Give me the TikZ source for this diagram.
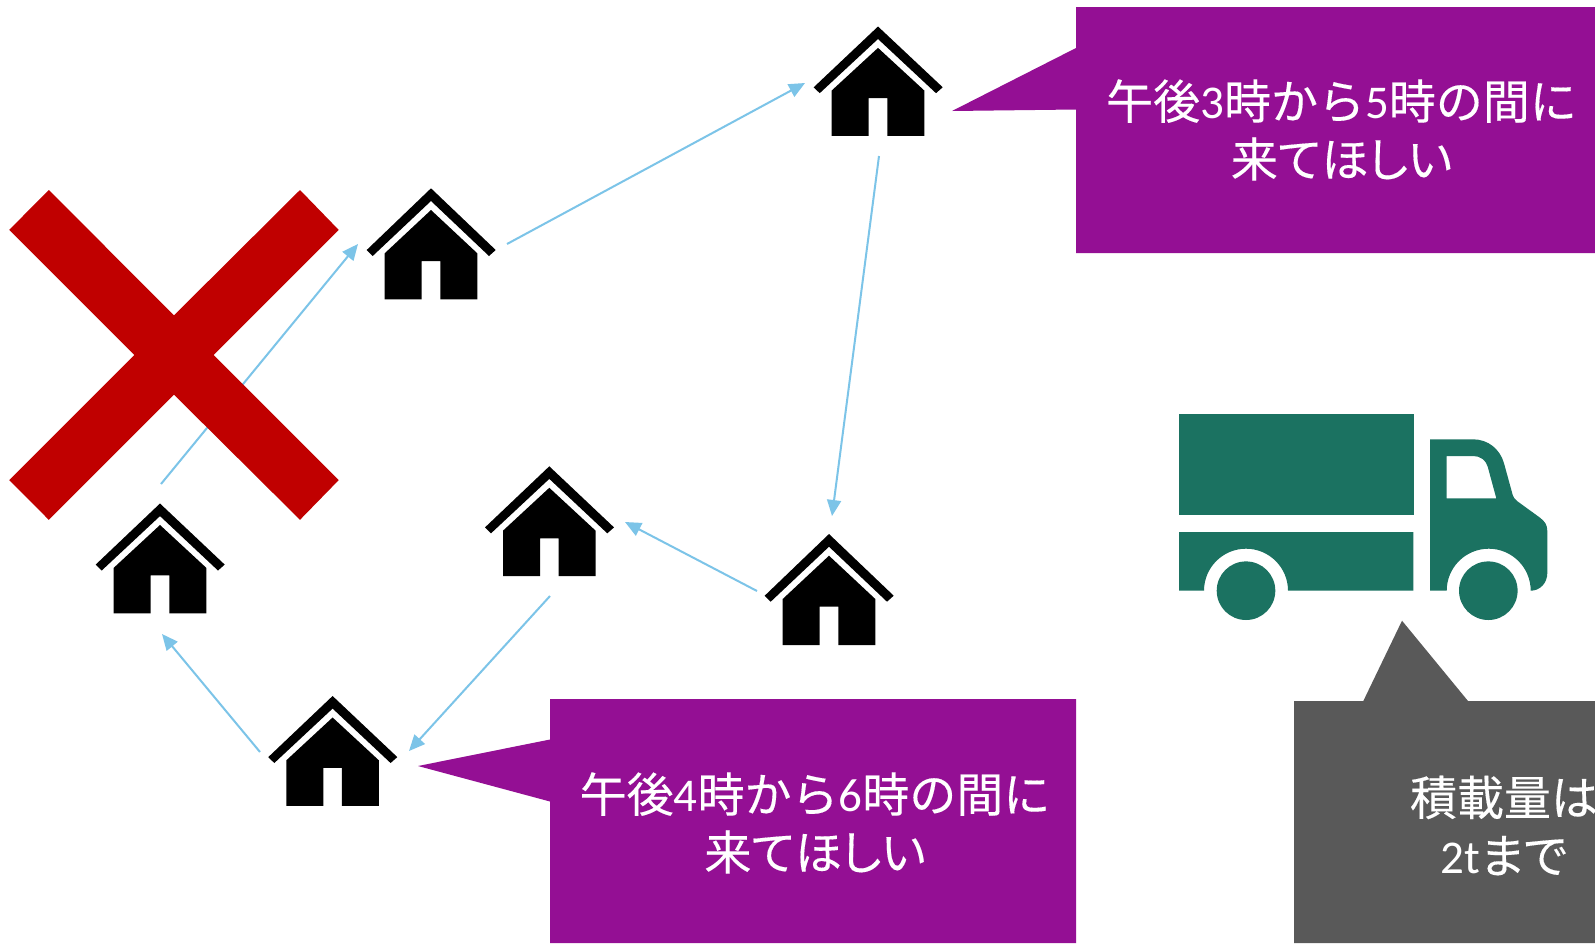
\documentclass[tikz,border=0pt]{standalone}
\usepackage{fontspec}
\setmainfont[FakeBold=0.25]{Noto Sans CJK JP}
\newfontfamily\pk[RawFeature=+palt,FakeBold=0.25]{Noto Sans CJK JP}
\newfontfamily\lat{Carlito}
\usetikzlibrary{arrows.meta}
\definecolor{callpurple}{HTML}{940F94}
\definecolor{callgrey}{HTML}{595959}
\definecolor{truckgreen}{HTML}{1B7261}
\definecolor{linkblue}{HTML}{7CC4E8}
\definecolor{xred}{HTML}{C00000}
\tikzset{
  housepic/.pic={
    \fill[black] (-64.3,61.7) -- (0,0) -- (64.7,61.7) -- (58,67.7) -- (0,12.7) -- (-58.3,67.7) -- cycle;
    \fill[black] (0,21.7) -- (46.3,65) -- (46.3,111) -- (9.3,111) -- (9.3,72.7) -- (-9.3,72.7) -- (-9.3,111) -- (-46.3,111) -- (-46.3,65) -- cycle;
  },
  link/.style={draw=linkblue,line width=2pt,-{Triangle[length=16pt,width=14pt]}},
  calltext/.style={text=white,align=center,inner sep=0pt,font=\fontsize{47}{58}\selectfont},
}
\begin{document}
\begin{tikzpicture}[x=1pt,y=-1pt]
\useasboundingbox (0,0) rectangle (1595,943);
\fill[white] (0,0) rectangle (1595,943);
% connector ends
\coordinate (BtoA) at (507,244);
\coordinate (AinB) at (805,83);
\coordinate (AtoE) at (879,156);
\coordinate (EinA) at (832,516);
\coordinate (EtoD) at (757,591);
\coordinate (DinE) at (625,522);
\coordinate (DtoF) at (550,596);
\coordinate (FinD) at (409,751);
\coordinate (FtoC) at (260,752);
\coordinate (CinF) at (162,634);
\coordinate (CtoB) at (161,484);
\coordinate (BinC) at (358,244);
\draw[link] (CtoB) -- (BinC);
\draw[link] (BtoA) -- (AinB);
\draw[link] (AtoE) -- (EinA);
\draw[link] (EtoD) -- (DinE);
\draw[link] (DtoF) -- (FinD);
\draw[link] (FtoC) -- (CinF);
% houses
\pic[yscale=.985] at (878,26.5) {housepic};
\pic at (431,188.3) {housepic};
\pic[yscale=.99] at (160,503.5) {housepic};
\pic[yscale=.99] at (549.3,466.3) {housepic};
\pic at (829,534) {housepic};
\pic[yscale=.99] at (332.6,696) {housepic};
% cross
\fill[xred] (48.8,190) -- (174,315.3) -- (300,190) -- (338.7,229.9) -- (213.6,355) -- (338.7,480.1) -- (300,519.8) -- (174,394.7) -- (48.8,519.8) -- (9.2,480.1) -- (134.3,355) -- (9.2,229.9) -- cycle;
% callouts
\fill[callpurple] (1076,7) -- (1595,7) -- (1595,253) -- (1076,253) -- (1076,109.5) -- (952,111) -- (1076,48) -- cycle;
\node[calltext] (note1) at (1341.5,130) {午後{\lat 3}時から{\lat 5}時の間に\\{\pk 来てほしい}};
\fill[callpurple] (550,699) -- (1076,699) -- (1076,943) -- (550,943) -- (550,801.5) -- (418,766) -- (550,739.5) -- cycle;
\node[calltext] (note2) at (815,823) {午後{\lat 4}時から{\lat 6}時の間に\\{\pk 来てほしい}};
\fill[callgrey] (1294,701) -- (1363.3,701) -- (1402,620.7) -- (1468,701) -- (1595,701) -- (1595,943) -- (1294,943) -- cycle;
\node[calltext] (note3) at (1504,825.5) {積載量は\\{\lat 2t}{\pk まで}};
% truck
\fill[truckgreen] (1179,414) rectangle (1414,515);
\fill[truckgreen] (1179,532) -- (1413.3,532) -- (1413.3,590.7) -- (1288,590.7) arc[start angle=0,end angle=-180,radius=42] -- (1204,590.7) -- (1179,590.7) -- cycle;
\fill[truckgreen] (1246,590.7) circle[radius=29.3];
\fill[truckgreen,even odd rule]
  (1430,439.3) -- (1473,439.3) .. controls (1488,439.3) and (1500,449) .. (1504,463.3) -- (1512.7,495) .. controls (1513.5,497.5) and (1515,499.5) .. (1517,501) -- (1540,517.7) .. controls (1545,521.5) and (1547.3,525) .. (1547.3,531) -- (1547.3,573) .. controls (1547.3,583) and (1540,590.7) .. (1530.7,590.7) arc[start angle=0,end angle=-180,radius=42] -- (1430,590.7) -- cycle
  (1446.7,456) -- (1473.3,456) .. controls (1480,456) and (1486,460) .. (1487.7,466.7) -- (1496.3,498.3) -- (1446.7,498.3) -- cycle;
\fill[truckgreen] (1488.3,590.7) circle[radius=29.3];
\end{tikzpicture}
\end{document}
